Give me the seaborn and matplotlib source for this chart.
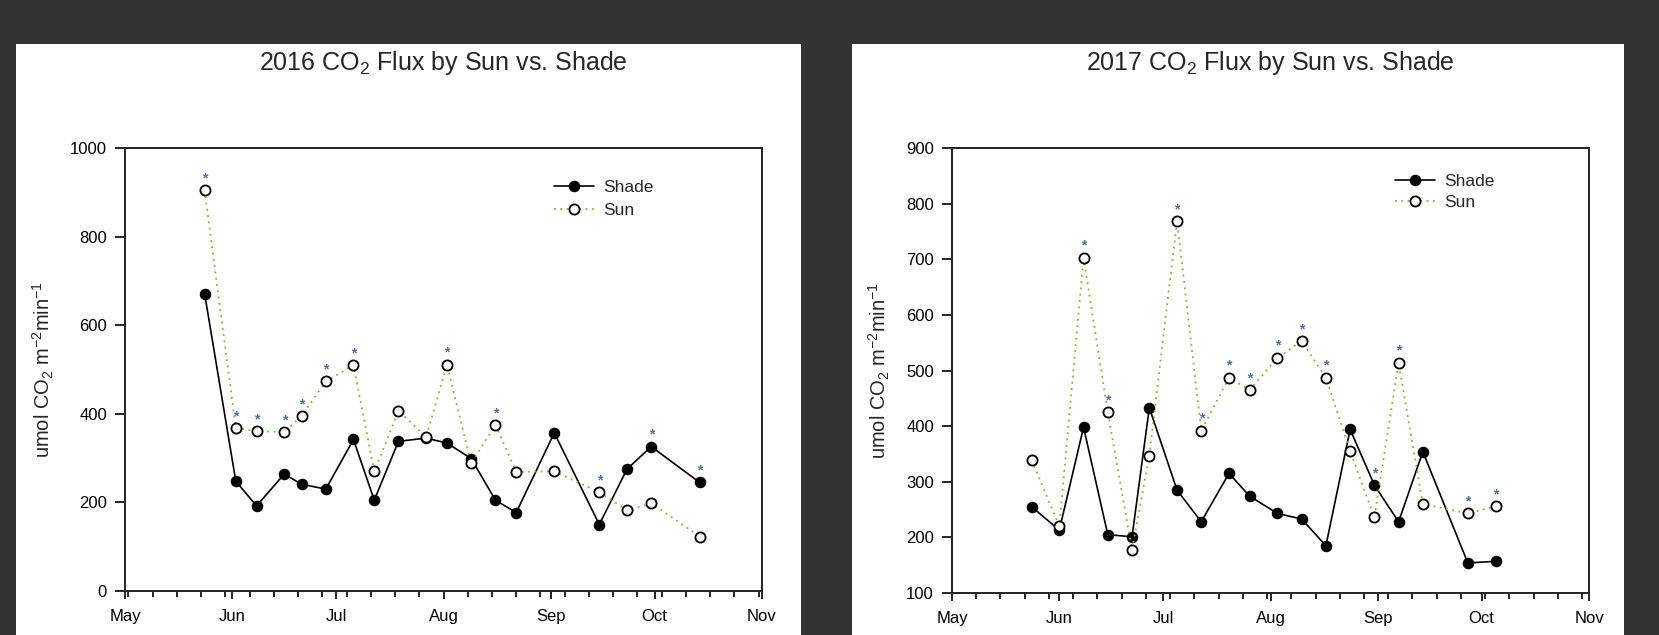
import matplotlib
matplotlib.use("Agg")
import matplotlib.pyplot as plt
import matplotlib.dates as mdates
from matplotlib.patches import Rectangle
import pandas as pd
import seaborn as sns

# ---- 2016 campaign ----
dates_2016 = ["2016-05-24", "2016-06-02", "2016-06-08", "2016-06-16", "2016-06-21",
              "2016-06-28", "2016-07-06", "2016-07-12", "2016-07-19", "2016-07-27",
              "2016-08-02", "2016-08-09", "2016-08-16", "2016-08-22", "2016-09-02",
              "2016-09-15", "2016-09-23", "2016-09-30", "2016-10-14"]
shade_2016 = [671, 248, 192, 264, 241, 230, 342, 205, 338, 345,
              334, 299, 205, 177, 357, 150, 275, 326, 245]
sun_2016 = [905, 368, 361, 359, 395, 473, 510, 270, 407, 347,
            511, 288, 375, 269, 270, 223, 182, 198, 123]
# significance flags: which series carries the asterisk at each date
sig_sun_2016 = [1, 1, 1, 1, 1, 1, 1, 0, 0, 0, 1, 0, 1, 0, 0, 1, 0, 0, 0]
sig_shade_2016 = [0, 0, 0, 0, 0, 0, 0, 0, 0, 0, 0, 0, 0, 0, 0, 0, 0, 1, 1]

# ---- 2017 campaign ----
dates_2017 = ["2017-05-24", "2017-06-01", "2017-06-08", "2017-06-15", "2017-06-22",
              "2017-06-27", "2017-07-05", "2017-07-12", "2017-07-20", "2017-07-26",
              "2017-08-03", "2017-08-10", "2017-08-17", "2017-08-24", "2017-08-31",
              "2017-09-07", "2017-09-14", "2017-09-27", "2017-10-05"]
shade_2017 = [255, 213, 398, 205, 201, 433, 285, 228, 315, 274,
              243, 233, 185, 394, 294, 228, 354, 154, 157]
sun_2017 = [339, 220, 703, 425, 178, 347, 769, 392, 487, 465,
            523, 553, 487, 355, 236, 514, 260, 243, 256]
sig_sun_2017 = [0, 0, 1, 1, 0, 0, 1, 1, 1, 1, 1, 1, 1, 0, 0, 1, 0, 1, 1]
sig_shade_2017 = [0, 0, 0, 0, 0, 0, 0, 0, 0, 0, 0, 0, 0, 0, 1, 0, 0, 0, 0]

sns.set_theme(style="ticks")
plt.rcParams["font.family"] = ["Liberation Sans", "DejaVu Sans"]
plt.rcParams["mathtext.default"] = "regular"

W, H = 1659, 635
fig = plt.figure(figsize=(W / 100, H / 100), dpi=100)
fig.patch.set_facecolor("#333333")

# white panels behind each chart
for x0, x1 in [(16, 801), (852, 1624)]:
    fig.add_artist(Rectangle((x0 / W, 0), (x1 - x0) / W, (H - 44) / H,
                             transform=fig.transFigure, facecolor="white",
                             edgecolor="none", zorder=0))

SUN_GREEN = "#7fb63a"
STAR_BLUE = "#4f6f9c"


def draw_panel(ax, year, dates, shade, sun, sig_shade, sig_sun, ylim, yticks,
               legend_xy, legend_spacing):
    d = pd.to_datetime(dates)
    df = pd.DataFrame({"date": d, "Shade": shade, "Sun": sun})
    sns.lineplot(data=df, x="date", y="Shade", ax=ax, color="black", lw=1.2,
                 marker="o", markersize=7.3, markerfacecolor="black",
                 markeredgecolor="black", markeredgewidth=1.0, label="Shade",
                 estimator=None, sort=True)
    sns.lineplot(data=df, x="date", y="Sun", ax=ax, color=SUN_GREEN, lw=1.3,
                 linestyle=(0, (1, 2.5)), marker="o", markersize=7.3,
                 markerfacecolor="white", markeredgecolor="black",
                 markeredgewidth=1.3, label="Sun", estimator=None, sort=True)

    # asterisks above significant points
    for flags, vals in ((sig_sun, sun), (sig_shade, shade)):
        for xi, s, v in zip(d, flags, vals):
            if s:
                ax.annotate("*", (xi, v), xytext=(0, 8.5), textcoords="offset points",
                            ha="center", va="center", fontsize=10, color=STAR_BLUE,
                            fontweight="bold")

    start = pd.Timestamp(f"{year}-05-01")
    end = pd.Timestamp(f"{year}-11-01")
    ax.set_xlim(start, end)
    ax.set_ylim(*ylim)
    ax.set_yticks(yticks)
    ax.set_yticklabels([str(t) for t in yticks])
    ax.xaxis.set_major_locator(mdates.MonthLocator())
    ax.xaxis.set_major_formatter(mdates.DateFormatter("%b"))
    ax.xaxis.set_minor_locator(mdates.WeekdayLocator(byweekday=mdates.MO))
    ax.tick_params(axis="x", which="major", length=6, width=1.2, labelsize=12,
                   direction="out", pad=7, colors="black")
    ax.tick_params(axis="x", which="minor", length=4, width=1.2, direction="out",
                   colors="black")
    ax.tick_params(axis="y", which="major", length=7, width=1.2, labelsize=12,
                   direction="out", pad=6, colors="black")
    ax.tick_params(axis="y", which="minor", length=0)
    for sp in ax.spines.values():
        sp.set_visible(True)
        sp.set_color("#222222")
        sp.set_linewidth(1.4)
    ax.set_facecolor("white")
    ax.grid(False)
    ax.set_xlabel("")
    ax.set_ylabel("umol CO$_2$ m$^{-2}$min$^{-1}$", fontsize=14.5, labelpad=10)
    ax.set_title(f"{year} CO$_2$ Flux by Sun vs. Shade", fontsize=18,
                 y=1.0, pad=56)
    ax.legend(loc="upper left", bbox_to_anchor=legend_xy, frameon=False,
              fontsize=12.5, handlelength=2.3, handletextpad=0.55,
              labelspacing=legend_spacing, borderpad=0, borderaxespad=0)


ax1 = fig.add_axes([125 / W, (H - 591) / H, 637 / W, 443 / H])
ax2 = fig.add_axes([952 / W, (H - 593) / H, 637 / W, 445 / H])

draw_panel(ax1, 2016, dates_2016, shade_2016, sun_2016, sig_shade_2016, sig_sun_2016,
           (0, 1000), [0, 200, 400, 600, 800, 1000], (0.673, 0.927), 0.42)
draw_panel(ax2, 2017, dates_2017, shade_2017, sun_2017, sig_shade_2017, sig_sun_2017,
           (100, 900), [100, 200, 300, 400, 500, 600, 700, 800, 900],
           (0.695, 0.941), 0.3)

fig.savefig("out.png", dpi=100, facecolor=fig.get_facecolor())
